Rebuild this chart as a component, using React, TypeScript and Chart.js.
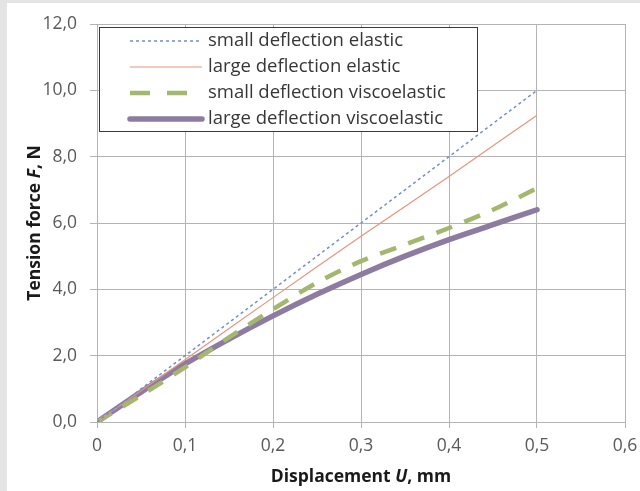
import React, { useEffect, useRef } from 'react';
import { Chart, registerables } from 'chart.js';

Chart.register(...registerables);

// ---- data ----
const xValues = [0, 0.05, 0.1, 0.15, 0.2, 0.25, 0.3, 0.35, 0.4, 0.45, 0.5];
const smallDeflectionElastic = [0, 1, 2, 3, 4, 5, 6, 7, 8, 9, 10];
const largeDeflectionElastic = [0, 0.94, 1.88, 2.82, 3.75, 4.68, 5.6, 6.5, 7.4, 8.33, 9.25];
const smallDeflectionViscoelastic = [0, 0.8, 1.65, 2.55, 3.4, 4.2, 4.85, 5.35, 5.85, 6.4, 7.05];
const largeDeflectionViscoelastic = [0, 0.9, 1.75, 2.5, 3.2, 3.85, 4.45, 5.0, 5.5, 5.95, 6.4];

const seriesLabels = [
  'small deflection elastic',
  'large deflection elastic',
  'small deflection viscoelastic',
  'large deflection viscoelastic',
];
const xTickLabels = ['0', '0,1', '0,2', '0,3', '0,4', '0,5', '0,6'];
const yTickLabels = ['0,0', '2,0', '4,0', '6,0', '8,0', '10,0', '12,0'];

const FONT = '"Open Sans", Lato, sans-serif';

type Part = [string, string];
function drawRich(ctx: CanvasRenderingContext2D, parts: Part[], cx: number, cy: number, angle: number) {
  ctx.save();
  ctx.translate(cx, cy);
  ctx.rotate(angle);
  let total = 0;
  for (const [t, f] of parts) {
    ctx.font = f;
    total += ctx.measureText(t).width;
  }
  let x = -total / 2;
  ctx.textBaseline = 'middle';
  ctx.textAlign = 'left';
  ctx.fillStyle = '#1a1a1a';
  for (const [t, f] of parts) {
    ctx.font = f;
    ctx.fillText(t, x, 0);
    x += ctx.measureText(t).width;
  }
  ctx.restore();
}

const overlayPlugin = {
  id: 'overlay',
  afterDraw(chart: any) {
    const ctx: CanvasRenderingContext2D = chart.ctx;
    const area = chart.chartArea;
    const bold = `bold 17.5px ${FONT}`;
    const boldIt = `italic bold 17.5px ${FONT}`;
    // axis titles
    drawRich(ctx, [['Displacement ', bold], ['U', boldIt], [', mm', bold]],
      (area.left + area.right) / 2, area.bottom + 55, 0);
    drawRich(ctx, [['Tension force ', bold], ['F', boldIt], [', N', bold]],
      28, (area.top + area.bottom) / 2, -Math.PI / 2);

    // legend
    const bx = area.left + 2;
    const by = area.top + 3;
    const bw = 378;
    const bh = 104;
    ctx.save();
    ctx.fillStyle = '#ffffff';
    ctx.fillRect(bx, by, bw, bh);
    ctx.strokeStyle = '#3a3a3a';
    ctx.lineWidth = 1;
    ctx.strokeRect(bx + 0.5, by + 0.5, bw, bh);
    const legendDash = [[3, 3], [], [20, 17], []];
    chart.data.datasets.forEach((ds: any, i: number) => {
      const y = by + 14 + i * 26;
      ctx.beginPath();
      ctx.setLineDash(legendDash[i]);
      ctx.strokeStyle = ds.borderColor;
      ctx.lineWidth = ds.borderWidth;
      ctx.lineCap = i === 3 ? 'round' : 'butt';
      ctx.moveTo(bx + 31, y);
      ctx.lineTo(bx + 103, y);
      ctx.stroke();
      ctx.setLineDash([]);
      ctx.fillStyle = '#363636';
      ctx.font = `18.5px ${FONT}`;
      ctx.textBaseline = 'middle';
      ctx.textAlign = 'left';
      ctx.fillText(ds.label, bx + 109, y);
    });
    ctx.restore();
  },
};

export default function App() {
  const canvasRef = useRef<HTMLCanvasElement | null>(null);

  useEffect(() => {
    const canvas = canvasRef.current;
    if (!canvas) return;
    const mk = (vals: number[]) => xValues.map((x, i) => ({ x, y: vals[i] }));
    const chart = new Chart(canvas, {
      type: 'line',
      data: {
        datasets: [
          {
            label: seriesLabels[0],
            data: mk(smallDeflectionElastic),
            borderColor: '#6f8fd0',
            borderWidth: 1.5,
            borderDash: [3, 3],
            pointRadius: 0,
            tension: 0,
          },
          {
            label: seriesLabels[1],
            data: mk(largeDeflectionElastic),
            borderColor: '#e8957a',
            borderWidth: 1.2,
            pointRadius: 0,
            tension: 0,
          },
          {
            label: seriesLabels[2],
            data: mk(smallDeflectionViscoelastic),
            borderColor: '#a3b86e',
            borderWidth: 4.5,
            borderDash: [17, 13],
            pointRadius: 0,
            tension: 0.3,
          },
          {
            label: seriesLabels[3],
            data: mk(largeDeflectionViscoelastic),
            borderColor: '#8e7ba0',
            borderWidth: 5.5,
            borderCapStyle: 'round',
            pointRadius: 0,
            tension: 0.3,
          },
        ],
      },
      options: {
        responsive: false,
        animation: false,
        devicePixelRatio: 1,
        layout: { padding: { top: 21, right: 15, left: 0, bottom: 0 } },
        plugins: {
          legend: { display: false },
          tooltip: { enabled: false },
        },
        scales: {
          x: {
            type: 'linear',
            min: 0,
            max: 0.6,
            ticks: {
              stepSize: 0.1,
              color: '#595959',
              font: { family: FONT, size: 17.5 },
              padding: 8,
              maxRotation: 0,
              callback: (_v: any, i: number) => xTickLabels[i],
            },
            grid: { color: '#b4b4b4', lineWidth: 1, tickLength: 6 },
            border: { color: '#b4b4b4' },
            afterFit: (scale: any) => {
              scale.height = 69;
              scale.paddingLeft = 0;
              scale.paddingRight = 0;
            },
          },
          y: {
            type: 'linear',
            min: 0,
            max: 12,
            ticks: {
              stepSize: 2,
              color: '#595959',
              font: { family: FONT, size: 17.5 },
              padding: 13,
              callback: (_v: any, i: number) => yTickLabels[i],
            },
            grid: { color: '#b4b4b4', lineWidth: 1, tickLength: 7 },
            border: { color: '#b4b4b4' },
            afterFit: (scale: any) => {
              scale.width = 90;
              scale.paddingTop = 0;
              scale.paddingBottom = 0;
            },
          },
        },
      },
      plugins: [overlayPlugin],
    } as any);
    return () => chart.destroy();
  }, []);

  return (
    <div style={{ position: 'fixed', left: 0, top: 0, width: 640, height: 491, background: '#e4e4e4', overflow: 'hidden' }}>
      <canvas
        ref={canvasRef}
        width={633}
        height={488}
        style={{ position: 'absolute', left: 7, top: 3, width: 633, height: 488, background: '#ffffff' }}
      />
    </div>
  );
}
